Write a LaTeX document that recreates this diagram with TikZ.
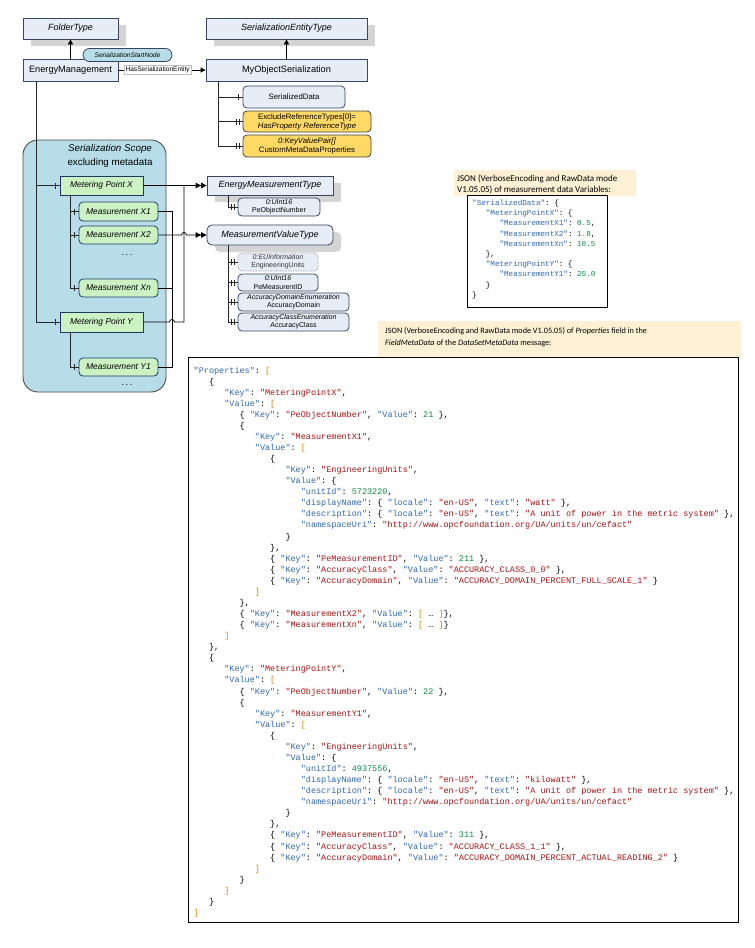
\documentclass[tikz,border=0pt]{standalone}
\usepackage{fontspec}
\setmainfont{Liberation Sans}
\setmonofont{Liberation Mono}
\newfontfamily\notefam{Carlito}
\usetikzlibrary{arrows.meta,shadows}

\definecolor{clsfill}{HTML}{E7EDF7}
\definecolor{bordc}{HTML}{3A4560}
\definecolor{shadowc}{HTML}{D4D4D4}
\definecolor{scopec}{HTML}{B7DEE8}
\definecolor{greenc}{HTML}{CCF2C4}
\definecolor{navyc}{HTML}{203864}
\definecolor{yellowc}{HTML}{FFD966}
\definecolor{notec}{HTML}{FDF0D5}
\definecolor{jkey}{HTML}{2F67B0}
\definecolor{jstr}{HTML}{A31515}
\definecolor{jnum}{HTML}{0E8A4A}
\definecolor{jbr}{HTML}{C88A10}

\newcommand\myT{\fontsize{9}{10}\selectfont\itshape}
\newcommand\myI{\fontsize{9.2}{11}\selectfont}
\newcommand\myS{\fontsize{7.8}{9}\selectfont}
\newcommand\myXS{\fontsize{7}{8.2}\selectfont}
\newcommand\myTiny{\fontsize{6.6}{7}\selectfont}
\newcommand\myG{\fontsize{8.5}{10}\selectfont\itshape}
\newcommand\myScope{\fontsize{9.8}{13.5}\selectfont}
\newcommand\myJ{\ttfamily\fontsize{8.5}{11}\selectfont}
\newcommand\myJs{\ttfamily\fontsize{7.6}{10}\selectfont}

\newcommand\jk[1]{\textcolor{jkey}{"#1"}}
\newcommand\jv[1]{\textcolor{jstr}{"#1"}}
\newcommand\jn[1]{\textcolor{jnum}{#1}}
\newcommand\jo{\textcolor{jbr}{[}}
\newcommand\jc{\textcolor{jbr}{]}}

\tikzset{
  cls/.style={draw=bordc, fill=clsfill, line width=0.8pt, inner sep=0pt, align=center},
  shad/.style={drop shadow={shadow xshift=8pt, shadow yshift=-7pt, fill=shadowc, opacity=1}},
  varbox/.style={cls, rounded corners=4pt},
  ybox/.style={draw=black!75, fill=yellowc, line width=0.8pt, rounded corners=4pt, inner sep=0pt, align=center},
  gbox/.style={draw=navyc, fill=greenc, line width=0.8pt, inner sep=0pt, font=\myG},
  pill/.style={draw=bordc, fill=scopec, line width=0.8pt, rounded corners=6.5pt, inner sep=0pt, font=\myTiny\itshape},
  lbl/.style={fill=white, draw=black!25, line width=0.4pt, inner sep=1.5pt, font=\myTiny},
  tree/.style={draw=black!85, line width=0.9pt},
  conn/.style={draw=black, line width=0.8pt},
  sub/.style={conn, -{Triangle[length=5pt,width=5pt]}},
  typeref/.style={conn, -{Triangle[length=5.5pt,width=5.5pt]Triangle[length=5.5pt,width=5.5pt]}},
  notebg/.style={fill=notec, draw=none, inner sep=0pt},
  notetext/.style={inner sep=0pt, align=left, anchor=north west},
  codebox/.style={draw=black, fill=white, line width=1pt, inner sep=0pt, anchor=north west},
  jtext/.style={anchor=base west, inner sep=0pt, font=\myJ},
  jstext/.style={anchor=base west, inner sep=0pt, font=\myJs}
}

\newcommand\tickone[1]{\draw[tree] ([xshift=-4.5pt,yshift=-3pt]#1.west) -- ([xshift=-4.5pt,yshift=3pt]#1.west);}
\newcommand\ticktwo[1]{\draw[tree] ([xshift=-3.5pt,yshift=-3pt]#1.west) -- ([xshift=-3.5pt,yshift=3pt]#1.west);
  \draw[tree] ([xshift=-6.5pt,yshift=-3pt]#1.west) -- ([xshift=-6.5pt,yshift=3pt]#1.west);}
\newcommand\jbig[3]{\node[jtext] (j#1) at ({193.5+15.3*#2},{373+11.07*(#1-1)}) {#3};}
\newcommand\jsmall[3]{\node[jstext] (s#1) at ({472+13.7*#2},{205.5+10.2*(#1-1)}) {#3};}

\begin{document}
\begin{tikzpicture}[x=1pt,y=-1pt]
\useasboundingbox (0,0) rectangle (755,948);
\fill[white] (0,0) rectangle (755,948);

% ---------- top classes ----------
\node[cls, shad, minimum width=95pt, minimum height=21pt, font=\myT] (folder) at (70.5,28.5) {FolderType};
\node[cls, shad, minimum width=161pt, minimum height=21pt, font=\myT] (setype) at (286.5,28.5) {SerializationEntityType};
\node[cls, minimum width=95pt, minimum height=22pt, font=\myI] (em) at (70.5,70) {EnergyManagement};
\node[cls, minimum width=161pt, minimum height=22pt, font=\myI] (mos) at (286.5,70) {MyObjectSerialization};

\draw[sub] (em) -- (folder);
\draw[sub] (mos) -- (setype);
\node[pill, minimum width=89pt, minimum height=13pt] (ssn) at (127.5,55) {SerializationStartNode};
\draw[sub] (em) -- node[lbl, pos=0.45] (hse) {HasSerializationEntity} (mos);

% ---------- MyObjectSerialization children ----------
\node[varbox, minimum width=102pt, minimum height=22pt, font=\myS] (sd) at (294,97) {SerializedData};
\node[ybox, minimum width=128pt, minimum height=21pt, font=\myS] (ex) at (307,121.5) {ExcludeReferenceTypes[0]=\\\textit{HasProperty ReferenceType}};
\node[ybox, minimum width=128pt, minimum height=22pt, font=\myS] (kv) at (307,146) {\textit{0:KeyValuePair[]}\\CustomMetaDataProperties};
\coordinate (mosb) at (218,81);
\draw[tree] (mosb) |- (sd.west);
\draw[tree] (mosb) |- (ex.west);
\draw[tree] (mosb) |- (kv.west);
\tickone{sd}
\ticktwo{ex}
\ticktwo{kv}

% ---------- serialization scope ----------
\node[draw=black!70, fill=scopec, line width=0.9pt, rounded corners=15pt, minimum width=143pt, minimum height=252pt, inner sep=0pt] (scope) at (94.5,266) {};
\node[font=\myScope, align=center, inner sep=0pt] (scopelbl) at (110,156) {\textit{Serialization Scope}\\excluding metadata};

\node[gbox, minimum width=83pt, minimum height=19pt] (mpx) at (101.5,185.5) {Metering Point X};
\node[gbox, rounded corners=4pt, minimum width=79pt, minimum height=19pt] (mx1) at (118.5,211.5) {Measurement X1};
\node[gbox, rounded corners=4pt, minimum width=79pt, minimum height=18pt] (mx2) at (118.5,235) {Measurement X2};
\node[font=\myI, inner sep=0pt] (dots1) at (127,255) {.\,.\,.};
\node[gbox, rounded corners=4pt, minimum width=79pt, minimum height=18pt] (mxn) at (118.5,288) {Measurement Xn};
\node[gbox, minimum width=83pt, minimum height=20pt] (mpy) at (101.5,322) {Metering Point Y};
\node[gbox, rounded corners=4pt, minimum width=79pt, minimum height=18pt] (my1) at (118.5,367) {Measurement Y1};
\node[font=\myI, inner sep=0pt] (dots2) at (127,385) {.\,.\,.};

\coordinate (emb) at (36,81);
\draw[tree] (emb) |- (mpx.west);
\draw[tree] (emb) |- (mpy.west);
\coordinate (mpxb) at (70,195);
\draw[tree] (mpxb) |- (mx1.west);
\draw[tree] (mpxb) |- (mx2.west);
\draw[tree] (mpxb) |- (mxn.west);
\coordinate (mpyb) at (70,332);
\draw[tree] (mpyb) |- (my1.west);
\tickone{mpx}
\tickone{mpy}
\tickone{mx1}
\tickone{mx2}
\tickone{mxn}
\tickone{my1}

% ---------- types ----------
\node[cls, shad, minimum width=126pt, minimum height=19pt, font=\myT] (emt) at (270,185.5) {EnergyMeasurementType};
\node[cls, shad, rounded corners=5pt, minimum width=126pt, minimum height=20pt, font=\myT] (mvt) at (270,235) {MeasurementValueType};
\node[varbox, minimum width=82pt, minimum height=18pt, font=\myXS] (pon) at (279,207) {\textit{0:UInt16}\\PeObjectNumber};
\node[varbox, draw=black!35, dashed, dash pattern=on 1.5pt off 1pt, minimum width=80pt, minimum height=18pt, font=\myXS, text=black!80] (eu) at (278,262) {\textit{0:EUInformation}\\EngineeringUnits};
\node[varbox, minimum width=80pt, minimum height=17pt, font=\myXS] (pmid) at (278,282.5) {\textit{0:UInt16}\\PeMeasurentID};
\node[varbox, minimum width=111pt, minimum height=18pt, font=\myXS] (accd) at (293.5,302) {\textit{AccuracyDomainEnumeration}\\AccuracyDomain};
\node[varbox, minimum width=111pt, minimum height=18pt, font=\myXS] (accc) at (293.5,322) {\textit{AccuracyClassEnumeration}\\AccuracyClass};

\coordinate (emtb) at (228,195);
\draw[tree] (emtb) |- (pon.west);
\ticktwo{pon}
\coordinate (mvtb) at (228,245);
\draw[tree] (mvtb) |- (eu.west);
\draw[tree] (mvtb) |- (pmid.west);
\draw[tree] (mvtb) |- (accd.west);
\draw[tree] (mvtb) |- (accc.west);
\ticktwo{eu}
\ticktwo{pmid}
\ticktwo{accd}
\ticktwo{accc}

% ---------- type definition connectors ----------
\coordinate (jy) at (184,185.5);
\coordinate (jm) at (172,235);
\draw[typeref] (mpx) -- (emt);
\draw[conn] (mpy.east) -- (169.5,322) arc[start angle=180, end angle=360, radius=2.5] -- (184,322) -- (jy);
\draw[typeref] (mx2.east) -- (181.5,235) arc[start angle=180, end angle=360, radius=2.5] -- (mvt.west);
\draw[conn] (mx1.east) -| (jm);
\draw[conn] (mxn.east) -| (jm);
\draw[conn] (my1.east) -| (jm);

% ---------- small JSON ----------
\node[notebg, anchor=north west, minimum width=182pt, minimum height=26pt] (n1) at (454,170) {};
\node[notetext, font={\notefam\fontsize{9}{10.5}\selectfont}] (n1t) at (457,175) {JSON (VerboseEncoding and RawData mode\\V1.05.05) of measurement data Variables:};
\node[codebox, minimum width=140pt, minimum height=112pt] (c1) at (467,195) {};
\jsmall{1}{0}{\jk{SerializedData}: \{}
\jsmall{2}{1}{\jk{MeteringPointX}: \{}
\jsmall{3}{2}{\jk{MeasurementX1}: \jn{0.5},}
\jsmall{4}{2}{\jk{MeasurementX2}: \jn{1.8},}
\jsmall{5}{2}{\jk{MeasurementXn}: \jn{10.5}}
\jsmall{6}{1}{\},}
\jsmall{7}{1}{\jk{MeteringPointY}: \{}
\jsmall{8}{2}{\jk{MeasurementY1}: \jn{25.0}}
\jsmall{9}{1}{\}}
\jsmall{10}{0}{\}}

% ---------- big JSON ----------
\node[notebg, anchor=north west, minimum width=363pt, minimum height=37pt] (n2) at (378,321) {};
\node[notetext, font={\notefam\fontsize{8.2}{12}\selectfont}] (n2t) at (385,327) {JSON (VerboseEncoding and RawData mode V1.05.05) of \textit{Properties} field in the\\\textit{FieldMetaData} of the \textit{DataSetMetaData} message:};
\node[codebox, minimum width=550pt, minimum height=565pt] (c2) at (188,357) {};
\jbig{1}{0}{\jk{Properties}: \jo}
\jbig{2}{1}{\{}
\jbig{3}{2}{\jk{Key}: \jv{MeteringPointX},}
\jbig{4}{2}{\jk{Value}: \jo}
\jbig{5}{3}{\{ \jk{Key}: \jv{PeObjectNumber}, \jk{Value}: \jn{21} \},}
\jbig{6}{3}{\{}
\jbig{7}{4}{\jk{Key}: \jv{MeasurementX1},}
\jbig{8}{4}{\jk{Value}: \jo}
\jbig{9}{5}{\{}
\jbig{10}{6}{\jk{Key}: \jv{EngineeringUnits},}
\jbig{11}{6}{\jk{Value}: \{}
\jbig{12}{7}{\jk{unitId}: \jn{5723220},}
\jbig{13}{7}{\jk{displayName}: \{ \jk{locale}: \jv{en-US}, \jk{text}: \jv{watt} \},}
\jbig{14}{7}{\jk{description}: \{ \jk{locale}: \jv{en-US}, \jk{text}: \jv{A unit of power in the metric system} \},}
\jbig{15}{7}{\jk{namespaceUri}: \jv{http://www.opcfoundation.org/UA/units/un/cefact}}
\jbig{16}{6}{\}}
\jbig{17}{5}{\},}
\jbig{18}{5}{\{ \jk{Key}: \jv{PeMeasurementID}, \jk{Value}: \jn{211} \},}
\jbig{19}{5}{\{ \jk{Key}: \jv{AccuracyClass}, \jk{Value}: \jv{ACCURACY\_CLASS\_0\_0} \},}
\jbig{20}{5}{\{ \jk{Key}: \jv{AccuracyDomain}, \jk{Value}: \jv{ACCURACY\_DOMAIN\_PERCENT\_FULL\_SCALE\_1} \}}
\jbig{21}{4}{\jc}
\jbig{22}{3}{\},}
\jbig{23}{3}{\{ \jk{Key}: \jv{MeasurementX2}, \jk{Value}: \jo{} … \jc\},}
\jbig{24}{3}{\{ \jk{Key}: \jv{MeasurementXn}, \jk{Value}: \jo{} … \jc\}}
\jbig{25}{2}{\jc}
\jbig{26}{1}{\},}
\jbig{27}{1}{\{}
\jbig{28}{2}{\jk{Key}: \jv{MeteringPointY},}
\jbig{29}{2}{\jk{Value}: \jo}
\jbig{30}{3}{\{ \jk{Key}: \jv{PeObjectNumber}, \jk{Value}: \jn{22} \},}
\jbig{31}{3}{\{}
\jbig{32}{4}{\jk{Key}: \jv{MeasurementY1},}
\jbig{33}{4}{\jk{Value}: \jo}
\jbig{34}{5}{\{}
\jbig{35}{6}{\jk{Key}: \jv{EngineeringUnits},}
\jbig{36}{6}{\jk{Value}: \{}
\jbig{37}{7}{\jk{unitId}: \jn{4937556},}
\jbig{38}{7}{\jk{displayName}: \{ \jk{locale}: \jv{en-US}, \jk{text}: \jv{kilowatt} \},}
\jbig{39}{7}{\jk{description}: \{ \jk{locale}: \jv{en-US}, \jk{text}: \jv{A unit of power in the metric system} \},}
\jbig{40}{7}{\jk{namespaceUri}: \jv{http://www.opcfoundation.org/UA/units/un/cefact}}
\jbig{41}{6}{\}}
\jbig{42}{5}{\},}
\jbig{43}{5}{\{ \jk{Key}: \jv{PeMeasurementID}, \jk{Value}: \jn{311} \},}
\jbig{44}{5}{\{ \jk{Key}: \jv{AccuracyClass}, \jk{Value}: \jv{ACCURACY\_CLASS\_1\_1} \},}
\jbig{45}{5}{\{ \jk{Key}: \jv{AccuracyDomain}, \jk{Value}: \jv{ACCURACY\_DOMAIN\_PERCENT\_ACTUAL\_READING\_2} \}}
\jbig{46}{4}{\jc}
\jbig{47}{3}{\}}
\jbig{48}{2}{\jc}
\jbig{49}{1}{\}}
\jbig{50}{0}{\jc}
\end{tikzpicture}
\end{document}
